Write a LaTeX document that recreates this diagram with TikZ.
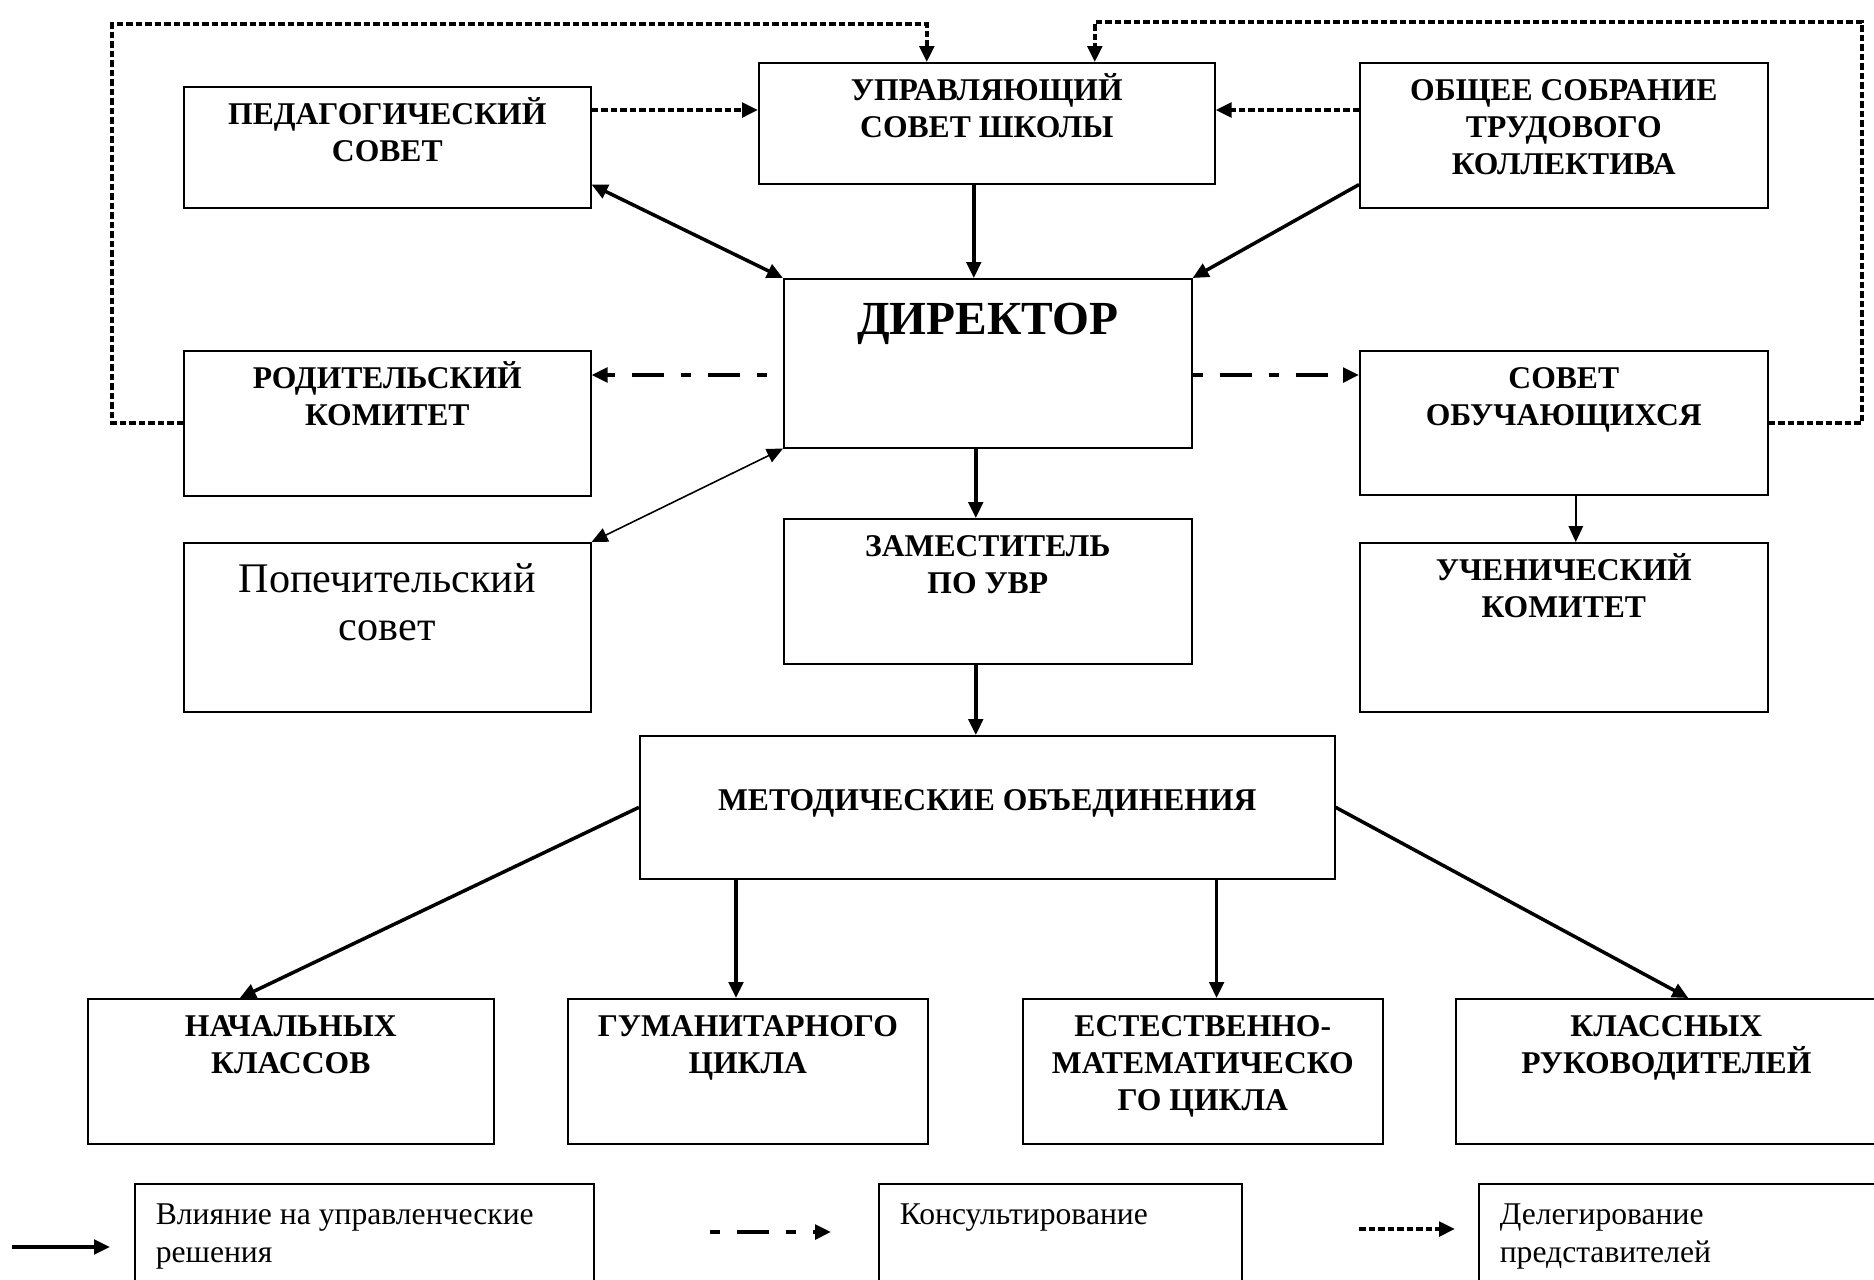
\documentclass[tikz,border=0pt]{standalone}
\usepackage{fontspec}
\setmainfont{Liberation Serif}
\usetikzlibrary{arrows.meta}

% box text: width, height, first baseline, lines
\newcommand{\boxtext}[4]{\parbox[c][#2][t]{#1}{\centering\rule{0pt}{#3}#4}}
\newcommand{\legtext}[3]{\parbox[c][#2][t]{#1}{\raggedright\leftskip=2.1mm\rule{0pt}{4.1mm}#3}}

\tikzset{
	box/.style={draw, line width=0.45pt, inner sep=0pt, anchor=north west, font=\bfseries\fontsize{9}{10.5}\selectfont},
	leg/.style={box, font=\fontsize{9}{10.8}\selectfont},
	infl/.style={line width=1pt},
	weak/.style={line width=0.45pt},
	consult/.style={line width=1.1pt, dash pattern=on 1mm off 1.7mm on 3.2mm off 1.7mm},
	deleg/.style={line width=1.1pt, dash pattern=on 0.65mm off 0.3mm},
}

\begin{document}
\begin{tikzpicture}[x=0.1mm, y=-0.1mm, >={Triangle[length=1.6mm,width=1.45mm]}]
			\useasboundingbox (0,0) rectangle (1874,1279);

			\node[box] (ped) at (183,86) {\boxtext{40.7mm}{12.1mm}{3.8mm}{ПЕДАГОГИЧЕСКИЙ\\СОВЕТ}};
			\node[box] (upr) at (758,62) {\boxtext{45.6mm}{12.1mm}{3.8mm}{УПРАВЛЯЮЩИЙ\\СОВЕТ ШКОЛЫ}};
			\node[box] (obsh) at (1359,62) {\boxtext{40.8mm}{14.5mm}{3.8mm}{ОБЩЕЕ СОБРАНИЕ\\ТРУДОВОГО\\КОЛЛЕКТИВА}};
			\node[box, font=\bfseries\fontsize{13.5}{15}\selectfont] (dir) at (783,278) {\boxtext{40.8mm}{16.9mm}{5.6mm}{ДИРЕКТОР}};
			\node[box] (rod) at (183,350) {\boxtext{40.7mm}{14.5mm}{3.8mm}{РОДИТЕЛЬСКИЙ\\КОМИТЕТ}};
			\node[box] (sovob) at (1359,350) {\boxtext{40.8mm}{14.4mm}{3.8mm}{СОВЕТ\\ОБУЧАЮЩИХСЯ}};
			\node[box, font=\fontsize{12}{13.7}\selectfont] (pop) at (183,542) {\boxtext{40.7mm}{16.9mm}{5.0mm}{Попечительский\\совет}};
			\node[box] (zam) at (783,518) {\boxtext{40.8mm}{14.5mm}{3.8mm}{ЗАМЕСТИТЕЛЬ\\ПО УВР}};
			\node[box] (uch) at (1359,542) {\boxtext{40.8mm}{16.9mm}{3.8mm}{УЧЕНИЧЕСКИЙ\\КОМИТЕТ}};
			\node[box] (met) at (639,735) {\boxtext{69.5mm}{14.3mm}{7.5mm}{МЕТОДИЧЕСКИЕ ОБЪЕДИНЕНИЯ}};
			\node[box] (nach) at (87,998) {\boxtext{40.6mm}{14.5mm}{3.8mm}{НАЧАЛЬНЫХ\\КЛАССОВ}};
			\node[box] (gum) at (567,998) {\boxtext{36.0mm}{14.5mm}{3.8mm}{ГУМАНИТАРНОГО\\ЦИКЛА}};
			\node[box] (est) at (1022,998) {\boxtext{36.0mm}{14.5mm}{3.8mm}{ЕСТЕСТВЕННО-\\МАТЕМАТИЧЕСКО\\ГО ЦИКЛА}};
			\node[box] (kl) at (1455,998) {\boxtext{42.1mm}{14.5mm}{3.8mm}{КЛАССНЫХ\\РУКОВОДИТЕЛЕЙ}};

			%% legend
			\node[leg] (leg1) at (134,1183) {\legtext{45.9mm}{12mm}{Влияние на управленческие\\решения}};
			\node[leg] (leg2) at (878,1183) {\legtext{36.3mm}{12mm}{Консультирование}};
			\node[leg] (leg3) at (1478,1183) {\legtext{40mm}{12mm}{Делегирование\\представителей}};

			%% delegation
			\coordinate (dl1) at (112,24);
			\coordinate (dl2) at (1862,22);
			\draw[deleg, ->] (rod.west) -| (dl1) -| ([xshift=-6mm]upr.north);
			\draw[deleg, ->] (sovob.east) -| (dl2) -| ([xshift=10.8mm]upr.north);
			\coordinate (pu) at ([yshift=-2.4mm]ped.north east);
			\coordinate (ou) at ([yshift=-4.8mm]obsh.north west);
			\draw[deleg, ->] (pu) -- (pu -| upr.west);
			\draw[deleg, ->] (ou) -- (ou -| upr.east);

			%% consulting
			\coordinate (dc1) at ([yshift=-9.7mm]dir.north west);
			\coordinate (dc2) at ([yshift=-9.7mm]dir.north east);
			\draw[consult, dash phase=6mm, ->] (dc1) -- (dc1 -| rod.east);
			\draw[consult, ->] (dc2) -- (dc2 -| sovob.west);

			%% influence
			\coordinate (ud) at ([xshift=-1.3mm]upr.south);
			\coordinate (dz) at ([xshift=-1.2mm]dir.south);
			\coordinate (zm) at ([xshift=-1.2mm]zam.south);
			\coordinate (su) at ([xshift=1.2mm]sovob.south);
			\coordinate (mg) at ([xshift=9.7mm]met.south west);
			\coordinate (me) at ([xshift=-11.9mm]met.south east);
			\draw[infl, <->] ([yshift=2.4mm]ped.south east) -- (dir.north west);
			\draw[infl, ->] ([yshift=2.4mm]obsh.south west) -- (dir.north east);
			\draw[infl, ->] (ud) -- (ud |- dir.north);
			\draw[infl, ->] (dz) -- (dz |- zam.north);
			\draw[weak, <->] (dir.south west) -- (pop.north east);
			\draw[weak, ->] (su) -- (su |- uch.north);
			\draw[infl, ->] (zm) -- (zm |- met.north);
			\draw[infl, ->] (met.west) -- ([xshift=-5.1mm]nach.north);
			\draw[infl, ->] (mg) -- (mg |- gum.north);
			\draw[infl, ->] (me) -- (me |- est.north);
			\draw[infl, ->] (met.east) -- ([xshift=2.2mm]kl.north);

			%% legend arrows
			\coordinate (ka) at (12,1247);
			\coordinate (kb) at (110,1247);
			\coordinate (ca) at (710,1232);
			\coordinate (cb) at (831,1232);
			\coordinate (da) at (1359,1229);
			\coordinate (db) at (1455,1229);
			\draw[infl, ->] (ka) -- (kb);
			\draw[consult, ->] (ca) -- (cb);
			\draw[deleg, ->] (da) -- (db);
\end{tikzpicture}
\end{document}
